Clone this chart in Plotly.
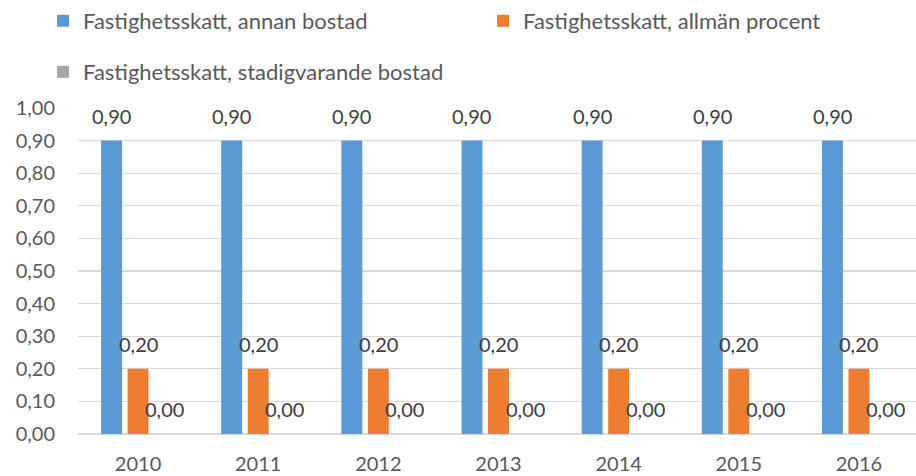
import plotly.graph_objects as go

years = ["2010", "2011", "2012", "2013", "2014", "2015", "2016"]
series_names = [
    "Fastighetsskatt, annan bostad",
    "Fastighetsskatt, allmän procent",
    "Fastighetsskatt, stadigvarande bostad",
]
annan_bostad = [0.90, 0.90, 0.90, 0.90, 0.90, 0.90, 0.90]
allman_procent = [0.20, 0.20, 0.20, 0.20, 0.20, 0.20, 0.20]
stadigvarande_bostad = [0.00, 0.00, 0.00, 0.00, 0.00, 0.00, 0.00]
y_ticks = [0.0, 0.1, 0.2, 0.3, 0.4, 0.5, 0.6, 0.7, 0.8, 0.9, 1.0]

colors = ["#5B9BD5", "#ED7D31", "#A5A5A5"]
FONT = "Lato"
W, H = 916, 476
ML, MR, MT, MB = 78, 0, 107, 42
plot_w = W - ML - MR
plot_h = H - MT - MB

def fmt(v):
    return f"{v:.2f}".replace(".", ",")

all_series = [annan_bostad, allman_procent, stadigvarande_bostad]
legends = ["legend", "legend3", "legend2"]

fig = go.Figure()
for name, vals, col, lg in zip(series_names, all_series, colors, legends):
    fig.add_trace(go.Bar(
        x=years, y=vals, name=name, marker=dict(color=col, line=dict(width=0)),
        legend=lg, hoverinfo="skip",
    ))

# data labels
bargap = 0.338
step_px = plot_w / 6.975
slot_px = step_px * (1 - bargap) / 3
annotations = []
for i, vals in enumerate(all_series):
    for j, v in enumerate(vals):
        annotations.append(dict(
            x=j, y=v, xref="x", yref="y", text=fmt(v), showarrow=False,
            xshift=(i - 1) * slot_px, yshift=25, yanchor="middle", xanchor="center",
            font=dict(family=FONT, size=20, color="#404040"),
        ))

def leg(xpx, ytop):
    return dict(
        orientation="h", x=(xpx - ML) / plot_w, xanchor="left",
        y=(H - MB - ytop) / plot_h, yanchor="top",
        font=dict(family=FONT, size=22, color="#595959"),
        bgcolor="rgba(0,0,0,0)", itemclick=False, itemdoubleclick=False,
    )

fig.update_layout(
    width=W, height=H,
    margin=dict(l=ML, r=MR, t=MT, b=MB, pad=0),
    paper_bgcolor="white", plot_bgcolor="white",
    barmode="group", bargap=bargap, bargroupgap=0.21,
    font=dict(family=FONT, size=20, color="#595959"),
    showlegend=True,
    legend=leg(43, -2),
    legend3=leg(483, -2),
    legend2=leg(43, 51),
    annotations=annotations,
    xaxis=dict(
        type="category", range=[-0.5, 6.475], showgrid=False, zeroline=False,
        showline=False, ticks="", ticklabelstandoff=16,
        tickfont=dict(family=FONT, size=20, color="#595959"),
    ),
    yaxis=dict(
        range=[0, 1.0], tickvals=y_ticks, ticktext=[fmt(v) for v in y_ticks],
        showgrid=True, gridcolor="#D9D9D9", gridwidth=1.3,
        zeroline=True, zerolinecolor="#D9D9D9", zerolinewidth=1.3,
        showline=False, ticks="", ticklabelstandoff=22,
        tickfont=dict(family=FONT, size=20, color="#595959"),
    ),
)

fig.write_html(
    "out.html",
    config={"displayModeBar": False, "staticPlot": True},
    post_script="document.body.style.margin='0';document.body.style.padding='0';",
)
